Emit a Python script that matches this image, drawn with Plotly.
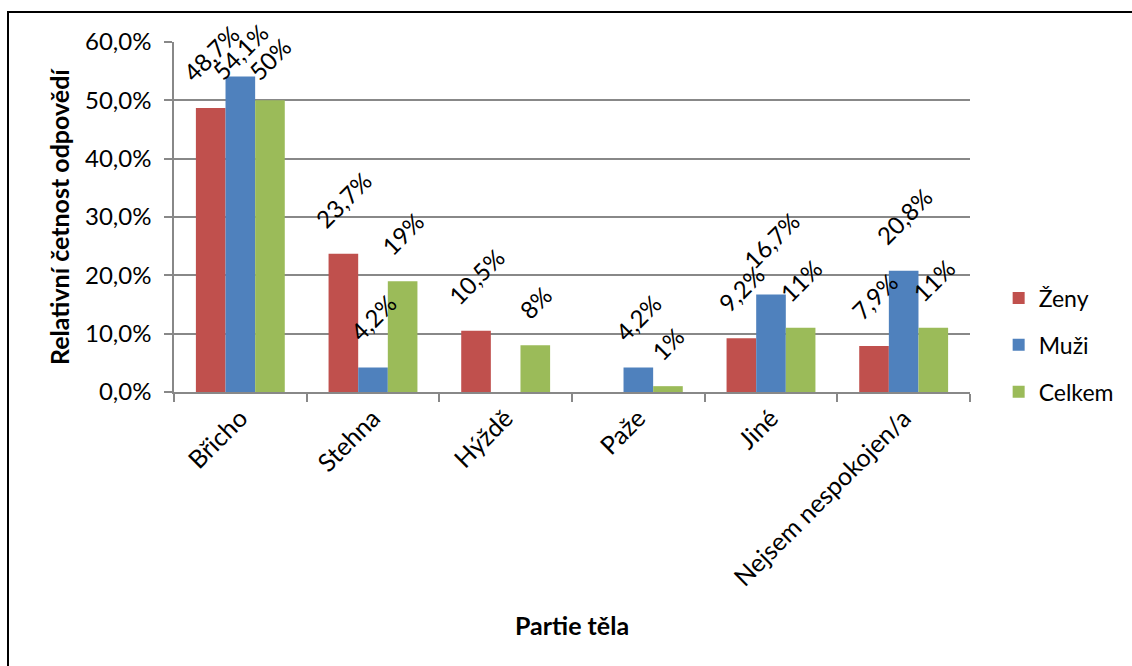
import plotly.graph_objects as go

# Body parts and relative answer frequencies (%)
categories = ["Břicho", "Stehna", "Hýždě", "Paže", "Jiné", "Nejsem nespokojen/a"]
zeny = [48.7, 23.7, 10.5, None, 9.2, 7.9]
muzi = [54.1, 4.2, None, 4.2, 16.7, 20.8]
celkem = [50, 19, 8, 1, 11, 11]

y_ticks = [0, 10, 20, 30, 40, 50, 60]
y_tick_labels = ["0,0%", "10,0%", "20,0%", "30,0%", "40,0%", "50,0%", "60,0%"]

FONT = "Lato, Calibri, 'Open Sans', sans-serif"
GRID = "#888888"

# Figure geometry
W, H = 1132, 666
M_L, M_R, M_T, M_B = 174, 162, 42, 274
Y_MAX = 60
BARGAP = 0.33
plot_w = W - M_L - M_R
plot_h = H - M_T - M_B
cat_w = plot_w / len(categories)
bar_w = cat_w * (1 - BARGAP) / 3
px_per_unit = plot_h / Y_MAX

LABEL_GAP = 18      # space between bar top and rotated label
LABEL_BOX = 52      # approximate height of a rotated label box
LABEL_TOP = 36      # labels are kept below this pixel row


def fmt(v, decimals):
    return f"{v:.{decimals}f}".replace(".", ",") + "%"


series = [
    ("Ženy", zeny, "#C0504D", 1),
    ("Muži", muzi, "#4F81BD", 1),
    ("Celkem", celkem, "#9BBB59", 0),
]

fig = go.Figure()
annotations = []
for k, (name, vals, color, dec) in enumerate(series):
    fig.add_trace(go.Bar(
        name=name,
        x=categories,
        y=vals,
        marker=dict(color=color, line=dict(width=0)),
        legendgroup=name,
        cliponaxis=False,
    ))
    # rotated value labels above each bar
    for cat, v in zip(categories, vals):
        if v is None:
            continue
        bar_top_px = M_T + (Y_MAX - v) * px_per_unit
        shift = min(LABEL_GAP, bar_top_px - LABEL_TOP - LABEL_BOX)
        annotations.append(dict(
            x=cat, y=v, xref="x", yref="y",
            text=fmt(v, dec),
            textangle=-45,
            xanchor="center", yanchor="bottom",
            xshift=(k - 1) * bar_w, yshift=shift,
            showarrow=False,
            font=dict(family=FONT, size=24, color="black"),
        ))

annotations += [
    dict(
        text="<b>Relativní četnost odpovědí</b>",
        xref="paper", yref="paper",
        x=(59 - M_L) / plot_w, y=0.5,
        xanchor="center", yanchor="middle",
        textangle=-90, showarrow=False,
        font=dict(family=FONT, size=25, color="black"),
    ),
    dict(
        text="<b>Partie těla</b>",
        xref="paper", yref="paper",
        x=0.5, y=(M_T + plot_h - 625) / plot_h,
        xanchor="center", yanchor="middle",
        showarrow=False,
        font=dict(family=FONT, size=25, color="black"),
    ),
]

fig.update_layout(
    width=W,
    height=H,
    margin=dict(l=M_L, r=M_R, t=M_T, b=M_B, autoexpand=False),
    paper_bgcolor="white",
    plot_bgcolor="white",
    barmode="group",
    bargap=BARGAP,
    bargroupgap=0,
    font=dict(family=FONT, size=24, color="black"),
    showlegend=True,
    legend=dict(
        x=1.036, y=0.33, xanchor="left", yanchor="top",
        font=dict(family=FONT, size=23, color="black"),
        tracegroupgap=14,
        itemwidth=30,
        bgcolor="rgba(0,0,0,0)",
    ),
    xaxis=dict(
        type="category",
        tickangle=-45,
        tickson="boundaries",
        ticks="outside",
        ticklen=8,
        tickcolor=GRID,
        tickwidth=1.5,
        showline=True,
        linecolor=GRID,
        linewidth=1.5,
        showgrid=False,
        tickfont=dict(family=FONT, size=25, color="black"),
    ),
    yaxis=dict(
        range=[0, Y_MAX],
        tickvals=y_ticks,
        ticktext=y_tick_labels,
        ticks="outside",
        ticklen=8,
        tickcolor=GRID,
        tickwidth=1.5,
        ticklabelstandoff=8,
        showline=True,
        linecolor=GRID,
        linewidth=1.5,
        showgrid=True,
        gridcolor=GRID,
        gridwidth=1.5,
        zeroline=False,
        tickfont=dict(family=FONT, size=24, color="black"),
    ),
    annotations=annotations,
    shapes=[
        dict(
            type="rect", xref="paper", yref="paper",
            x0=(8 - M_L) / plot_w, x1=1.4,
            y0=-1.2, y1=(M_T + plot_h - 12) / plot_h,
            line=dict(color="black", width=2),
            fillcolor="rgba(0,0,0,0)",
            layer="below",
        )
    ],
)

fig.write_html("out.html")
